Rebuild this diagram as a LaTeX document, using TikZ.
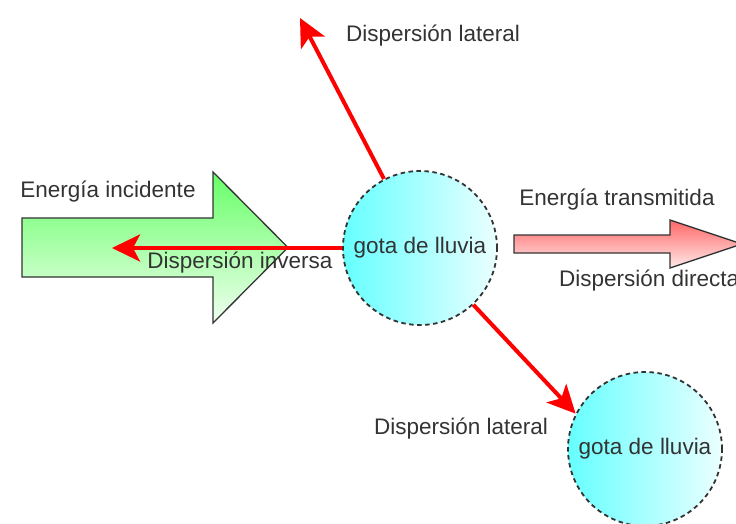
\documentclass[tikz,border=0pt]{standalone}
\usepackage{fontspec}
\setmainfont{Liberation Sans}
\usetikzlibrary{arrows.meta}
\definecolor{txt}{HTML}{333333}
\definecolor{edge}{HTML}{333333}
\tikzset{
  lbl/.style={text=txt, font=\fontsize{22.5}{27}\selectfont, inner sep=0pt},
  drop/.style={circle, minimum size=154pt, inner sep=0pt, draw=edge, line width=1.8pt,
    dash pattern=on 4.5pt off 3.5pt, left color=cyan!60, right color=cyan!8,
    text=txt, font=\fontsize{22.5}{27}\selectfont},
  scatter/.style={draw=red, line width=4pt, -{Stealth[length=28pt,width=27pt,inset=7pt]}},
  blockgreen/.style={draw=edge, line width=1.3pt, top color=green!60!white, bottom color=green!6!white},
  blockred/.style={draw=edge, line width=1.3pt, top color=red!60!white, bottom color=red!8!white}
}
\begin{document}
\begin{tikzpicture}[x=1pt,y=-1pt]
\useasboundingbox (0,0) rectangle (736,524);
% incident energy block arrow
\path[blockgreen] (22,218) -- (213,218) -- (213,172) -- (288,247.5) -- (213,323) -- (213,277) -- (22,277) -- cycle;
% transmitted energy block arrow
\path[blockred] (514,235) -- (670,235) -- (670,220) -- (742,244) -- (670,268) -- (670,253) -- (514,253) -- cycle;
% drops
\node[drop] (drop1) at (420,248) {gota de lluvia};
\node[drop] (drop2) at (645,449) {gota de lluvia};
% free ends
\coordinate (back) at (112,248);
\coordinate (up) at (300,18);
% scatter connectors
\draw[scatter] (drop1) -- (back);
\draw[scatter] (drop1) -- (up);
\draw[scatter] (drop1) -- (drop2.153);
% labels
\node[lbl] (l1) at (108,192) {Energía incidente};
\node[lbl] (l2) at (240,263) {Dispersión inversa};
\node[lbl] (l3) at (433,36) {Dispersión lateral};
\node[lbl] (l4) at (617,200) {Energía transmitida};
\node[lbl, anchor=west] (l5) at (559,281) {Dispersión directa};
\node[lbl] (l6) at (461,429) {Dispersión lateral};
\end{tikzpicture}
\end{document}
